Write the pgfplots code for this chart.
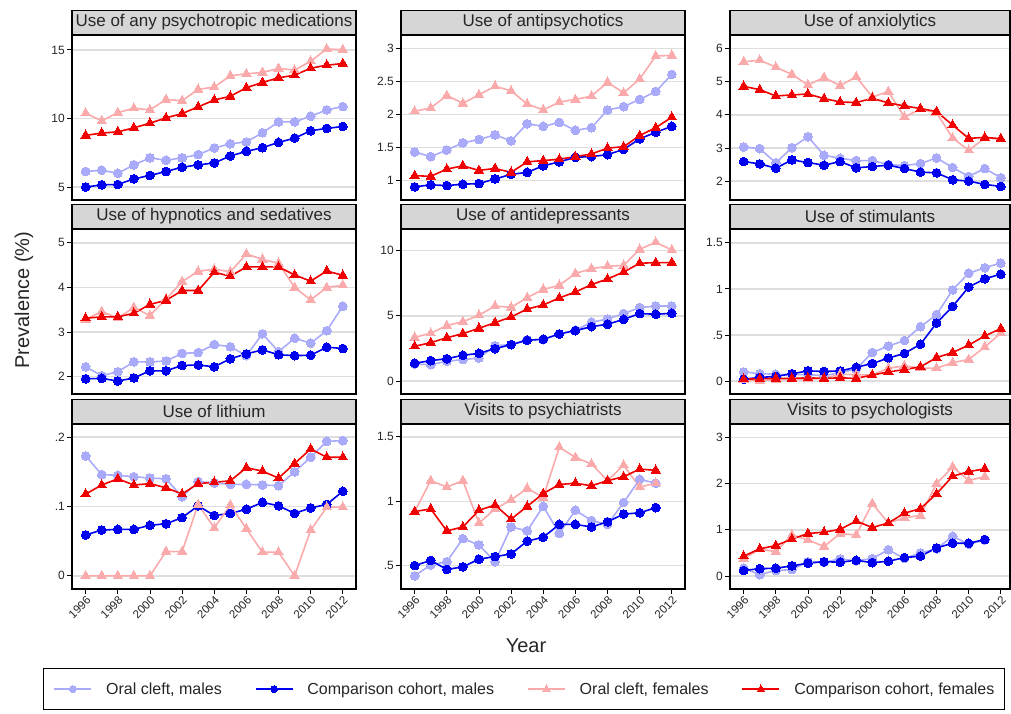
\documentclass[border=0pt]{standalone}
\usepackage{fontspec}
\setmainfont{Liberation Sans}
\usepackage{pgfplots}
\usepackage{pgfplotstable}
\pgfplotsset{compat=1.18}
\definecolor{ocm}{RGB}{170,170,250}
\definecolor{ccm}{RGB}{0,0,240}
\definecolor{ocf}{RGB}{250,170,170}
\definecolor{ccf}{RGB}{240,0,0}
\definecolor{strip}{RGB}{214,214,214}

\pgfplotstableread{
year ocm ccm ocf ccf
1996 6.14 5.00 10.39 8.77
1997 6.23 5.17 9.83 8.94
1998 6.01 5.19 10.43 9.03
1999 6.62 5.60 10.75 9.32
2000 7.13 5.85 10.63 9.66
2001 6.96 6.14 11.38 10.05
2002 7.13 6.45 11.30 10.36
2003 7.37 6.62 12.13 10.85
2004 7.85 6.76 12.29 11.35
2005 8.16 7.27 13.12 11.62
2006 8.29 7.61 13.26 12.25
2007 8.96 7.87 13.36 12.63
2008 9.76 8.26 13.65 12.97
2009 9.76 8.57 13.53 13.16
2010 10.17 9.11 14.18 13.67
2011 10.63 9.28 15.07 13.89
2012 10.87 9.42 15.02 14.01
}\Pany
\pgfplotstableread{
year ocm ccm ocf ccf
1996 1.43 0.90 2.05 1.07
1997 1.36 0.93 2.10 1.06
1998 1.46 0.92 2.29 1.17
1999 1.57 0.94 2.17 1.22
2000 1.62 0.95 2.30 1.15
2001 1.69 1.02 2.43 1.18
2002 1.60 1.09 2.36 1.12
2003 1.86 1.12 2.16 1.28
2004 1.82 1.22 2.07 1.30
2005 1.88 1.28 2.19 1.32
2006 1.76 1.35 2.23 1.36
2007 1.80 1.36 2.28 1.40
2008 2.07 1.39 2.49 1.49
2009 2.12 1.47 2.33 1.51
2010 2.23 1.63 2.54 1.68
2011 2.35 1.73 2.89 1.80
2012 2.61 1.82 2.90 1.96
}\Pantipsy
\pgfplotstableread{
year ocm ccm ocf ccf
1996 3.03 2.59 5.60 4.86
1997 2.98 2.52 5.65 4.76
1998 2.55 2.39 5.44 4.57
1999 3.01 2.64 5.22 4.60
2000 3.34 2.56 4.90 4.63
2001 2.78 2.48 5.13 4.49
2002 2.69 2.59 4.88 4.39
2003 2.62 2.40 5.15 4.37
2004 2.62 2.44 4.54 4.50
2005 2.50 2.48 4.70 4.36
2006 2.47 2.38 3.94 4.27
2007 2.53 2.27 4.17 4.19
2008 2.70 2.25 4.06 4.10
2009 2.41 2.04 3.30 3.69
2010 2.14 2.00 2.93 3.29
2011 2.38 1.90 3.30 3.32
2012 2.10 1.84 3.27 3.28
}\Panx
\pgfplotstableread{
year ocm ccm ocf ccf
1996 2.22 1.95 3.28 3.31
1997 2.02 1.96 3.46 3.34
1998 2.11 1.90 3.31 3.34
1999 2.33 1.97 3.55 3.42
2000 2.33 2.13 3.37 3.62
2001 2.35 2.13 3.74 3.71
2002 2.52 2.25 4.13 3.93
2003 2.54 2.26 4.36 3.93
2004 2.72 2.22 4.41 4.34
2005 2.67 2.40 4.35 4.25
2006 2.47 2.51 4.75 4.46
2007 2.96 2.60 4.63 4.46
2008 2.56 2.49 4.54 4.46
2009 2.86 2.47 4.00 4.28
2010 2.75 2.48 3.72 4.14
2011 3.03 2.66 4.00 4.37
2012 3.58 2.63 4.05 4.27
}\Phyp
\pgfplotstableread{
year ocm ccm ocf ccf
1996 1.30 1.36 3.35 2.66
1997 1.25 1.56 3.66 2.94
1998 1.51 1.71 4.25 3.32
1999 1.64 1.97 4.55 3.63
2000 1.76 2.12 5.04 4.04
2001 2.71 2.48 5.75 4.48
2002 2.79 2.79 5.65 4.91
2003 3.17 3.12 6.39 5.52
2004 3.17 3.20 7.03 5.83
2005 3.61 3.61 7.34 6.37
2006 3.89 3.86 8.24 6.83
2007 4.50 4.17 8.62 7.39
2008 4.76 4.35 8.80 7.83
2009 5.17 4.73 8.87 8.36
2010 5.63 5.17 10.10 9.03
2011 5.75 5.12 10.64 9.08
2012 5.75 5.19 10.05 9.08
}\Pdep
\pgfplotstableread{
year ocm ccm ocf ccf
1996 0.10 0.02 0.01 0.02
1997 0.08 0.04 0.005 0.025
1998 0.075 0.05 0.015 0.03
1999 0.07 0.08 0.02 0.03
2000 0.07 0.11 0.02 0.035
2001 0.06 0.105 0.03 0.03
2002 0.09 0.11 0.075 0.035
2003 0.13 0.15 0.07 0.03
2004 0.31 0.19 0.065 0.065
2005 0.38 0.25 0.14 0.10
2006 0.44 0.30 0.165 0.125
2007 0.59 0.40 0.14 0.155
2008 0.72 0.63 0.14 0.255
2009 0.99 0.81 0.20 0.31
2010 1.17 1.02 0.235 0.39
2011 1.23 1.11 0.37 0.49
2012 1.28 1.16 0.52 0.57
}\Pstim
\pgfplotstableread{
year ocm ccm ocf ccf
1996 0.173 0.059 0 0.118
1997 0.146 0.066 0 0.131
1998 0.145 0.067 0 0.140
1999 0.143 0.067 0 0.131
2000 0.141 0.073 0 0.133
2001 0.140 0.075 0.035 0.127
2002 0.114 0.084 0.035 0.118
2003 0.136 0.101 0.103 0.133
2004 0.134 0.087 0.069 0.135
2005 0.132 0.090 0.102 0.137
2006 0.132 0.096 0.068 0.156
2007 0.131 0.106 0.034 0.151
2008 0.130 0.101 0.034 0.141
2009 0.150 0.090 0 0.162
2010 0.171 0.098 0.066 0.183
2011 0.194 0.103 0.099 0.171
2012 0.195 0.122 0.099 0.171
}\Plith
\pgfplotstableread{
year ocm ccm ocf ccf
1996 0.42 0.50 0.92 0.92
1997 0.505 0.54 1.16 0.94
1998 0.53 0.47 1.11 0.77
1999 0.71 0.49 1.16 0.80
2000 0.66 0.55 0.83 0.93
2001 0.53 0.57 0.94 0.97
2002 0.80 0.59 1.01 0.86
2003 0.77 0.69 1.10 0.96
2004 0.96 0.72 1.03 1.06
2005 0.75 0.82 1.42 1.13
2006 0.93 0.82 1.34 1.14
2007 0.85 0.80 1.29 1.12
2008 0.82 0.84 1.16 1.16
2009 0.99 0.90 1.28 1.19
2010 1.17 0.91 1.11 1.25
2011 1.14 0.95 1.14 1.24
}\Ppsychiat
\pgfplotstableread{
year ocm ccm ocf ccf
1996 0.17 0.12 0.38 0.43
1997 0.03 0.16 0.58 0.59
1998 0.12 0.17 0.53 0.66
1999 0.14 0.22 0.89 0.80
2000 0.31 0.28 0.78 0.92
2001 0.30 0.31 0.64 0.95
2002 0.37 0.30 0.92 1.01
2003 0.33 0.34 0.89 1.19
2004 0.38 0.29 1.57 1.05
2005 0.57 0.32 1.15 1.15
2006 0.38 0.40 1.26 1.36
2007 0.50 0.43 1.31 1.46
2008 0.59 0.61 2.00 1.78
2009 0.86 0.71 2.36 2.16
2010 0.69 0.71 2.07 2.26
2011 0.78 0.79 2.15 2.32
}\Ppsycholog

\pgfplotsset{
  panel/.style 2 args={scale only axis, width=#1, height=165pt,
    xmin=1995.15, xmax=#2,
    axis line style={line width=1.2pt, black},
    tick align=outside, ytick pos=left, xtick pos=bottom,
    major tick length=5pt, tick style={line width=0.9pt, black},
    ymajorgrids, major grid style={line width=1.4pt, color=black!13},
    yticklabel style={font=\fontsize{12}{12}\selectfont, inner sep=2pt, text=black!85},
    every axis title/.style={at={(0.5,1)}, anchor=south, draw=black, line width=1.2pt,
      fill=strip, minimum width=#1, minimum height=24pt, inner sep=0pt,
      font=\fontsize{17}{17}\selectfont, text=black!85},
  },
  top/.style={xtick=\empty},
  bottom/.style={xtick={1996,1998,...,2012},
    xticklabels={1996,1998,2000,2002,2004,2006,2008,2010,2012},
    xticklabel style={font=\fontsize{11.5}{11.5}\selectfont, rotate=45, anchor=north east, inner sep=1pt, text=black!85}},
  ocmS/.style={color=ocm, line width=1.6pt, mark=*, mark size=4.4pt, mark options={solid, draw=ocm, fill=ocm, line width=0pt}},
  ccmS/.style={color=ccm, line width=1.6pt, mark=*, mark size=4.4pt, mark options={solid, draw=ccm, fill=ccm, line width=0pt}},
  ocfS/.style={color=ocf, line width=1.6pt, mark=triangle*, mark size=5.4pt, mark options={solid, draw=ocf, fill=ocf, line width=0pt}},
  ccfS/.style={color=ccf, line width=1.6pt, mark=triangle*, mark size=5.4pt, mark options={solid, draw=ccf, fill=ccf, line width=0pt}},
}
\newcommand{\four}[1]{%
  \addplot[ocmS] table[x=year,y=ocm]{#1};
  \addplot[ccmS] table[x=year,y=ccm]{#1};
  \addplot[ocfS] table[x=year,y=ocf]{#1};
  \addplot[ccfS] table[x=year,y=ccf]{#1};
}

\begin{document}
\begin{tikzpicture}
\useasboundingbox (0,0) rectangle (1011pt,713pt);

% Row 1
\begin{axis}[panel={284pt}{2012.82}, top, at={(72pt,513pt)}, anchor=south west,
  ymin=4.06, ymax=16.09, ytick={5,10,15}, yticklabels={5,10,15},
  title={Use of any psychotropic medications}]
\four{\Pany}
\end{axis}
\begin{axis}[panel={284pt}{2012.82}, top, at={(401pt,513pt)}, anchor=south west,
  ymin=0.70, ymax=3.21, ytick={1,1.5,2,2.5,3}, yticklabels={1,1.5,2,2.5,3},
  title={Use of antipsychotics}]
\four{\Pantipsy}
\end{axis}
\begin{axis}[panel={280pt}{2012.57}, top, at={(730pt,513pt)}, anchor=south west,
  ymin=1.43, ymax=6.41, ytick={2,3,4,5,6}, yticklabels={2,3,4,5,6},
  title={Use of anxiolytics}]
\four{\Panx}
\end{axis}

% Row 2
\begin{axis}[panel={284pt}{2012.82}, top, at={(72pt,319pt)}, anchor=south west,
  ymin=1.61, ymax=5.31, ytick={2,3,4,5}, yticklabels={2,3,4,5},
  title={Use of hypnotics and sedatives}]
\four{\Phyp}
\end{axis}
\begin{axis}[panel={284pt}{2012.82}, top, at={(401pt,319pt)}, anchor=south west,
  ymin=-1.0, ymax=11.66, ytick={0,5,10}, yticklabels={0,5,10},
  title={Use of antidepressants}]
\four{\Pdep}
\end{axis}
\begin{axis}[panel={280pt}{2012.57}, top, at={(730pt,319pt)}, anchor=south west,
  ymin=-0.14, ymax=1.65, ytick={0,0.5,1,1.5}, yticklabels={0,.5,1,1.5},
  title={Use of stimulants}]
\four{\Pstim}
\end{axis}

% Row 3
\begin{axis}[panel={284pt}{2012.82}, bottom, at={(72pt,124pt)}, anchor=south west,
  ymin=-0.019, ymax=0.219, ytick={0,0.1,0.2}, yticklabels={0,.1,.2},
  title={Use of lithium}]
\four{\Plith}
\end{axis}
\begin{axis}[panel={284pt}{2012.82}, bottom, at={(401pt,124pt)}, anchor=south west,
  ymin=0.318, ymax=1.60, ytick={0.5,1,1.5}, yticklabels={.5,1,1.5},
  title={Visits to psychiatrists}]
\four{\Ppsychiat}
\end{axis}
\begin{axis}[panel={280pt}{2012.57}, bottom, at={(730pt,124pt)}, anchor=south west,
  ymin=-0.28, ymax=3.29, ytick={0,1,2,3}, yticklabels={0,1,2,3},
  title={Visits to psychologists}]
\four{\Ppsycholog}
\end{axis}

% Legend
\begin{axis}[hide axis, scale only axis, width=100pt, height=100pt, at={(0pt,0pt)}, anchor=south west,
  xmin=0, xmax=1, ymin=0, ymax=1,
  legend columns=4, legend cell align=left,
  legend image code/.code={\draw[mark repeat=2, mark phase=2, #1] plot coordinates {(0pt,0pt) (18.5pt,0pt) (37pt,0pt)};},
  legend style={at={(0.43,0.45)}, anchor=north west, draw=black, line width=1.2pt,
    inner xsep=10pt, inner ysep=14pt,
    nodes={inner sep=0pt, font=\fontsize{16}{16}\selectfont, text=black!85},
    /tikz/every odd column/.append style={column sep=14pt},
    /tikz/every even column/.append style={column sep=33pt}}]
\addlegendimage{ocmS, mark size=3.4pt}
\addlegendentry{Oral cleft, males}
\addlegendimage{ccmS, mark size=3.4pt}
\addlegendentry{Comparison cohort, males}
\addlegendimage{ocfS, mark size=4.2pt}
\addlegendentry{Oral cleft, females}
\addlegendimage{ccfS, mark size=4.2pt}
\addlegendentry{Comparison cohort, females}
\end{axis}

\node[rotate=90, font=\fontsize{20}{20}\selectfont, text=black!85] at (24pt,413pt) {Prevalence (\%)};
\node[font=\fontsize{20}{20}\selectfont, text=black!85] at (526pt,67pt) {Year};
\end{tikzpicture}
\end{document}
